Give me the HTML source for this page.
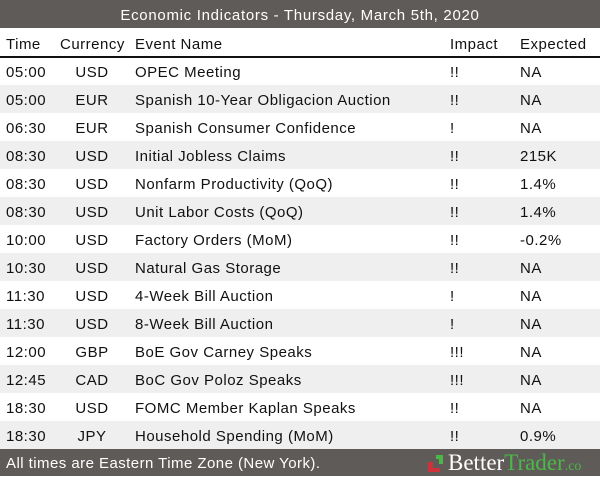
<!DOCTYPE html><html><head><style>
body{margin:0;width:600px;height:476px;font-family:"Liberation Sans",sans-serif;background:#fff;position:relative;overflow:hidden}
.top{position:absolute;left:0;top:0;width:600px;height:28px;background:#5f5b59;color:#fff;font-size:15px;text-align:center;line-height:31px;letter-spacing:0.7px}
.r{position:absolute;left:0;width:600px;height:28px;font-size:15px;color:#111;line-height:31px;letter-spacing:0.5px}
.r span{position:absolute;white-space:nowrap}
.g{background:#efefef}
.t{left:6px}.c{left:60px;width:64px;text-align:center}.e{left:135px}.i{left:450px}.x{left:520px}
.hd{top:29px;border-bottom:2px solid #111;height:27px}
.foot{position:absolute;left:0;top:449px;width:600px;height:27px;background:#5f5b59;color:#fff;font-size:15px;line-height:30px;letter-spacing:0.45px}
</style></head><body>
<div class="top">Economic Indicators - Thursday, March 5th, 2020</div>
<div class="r hd"><span class="t">Time</span><span style="left:60px">Currency</span><span class="e">Event Name</span><span style="left:450px">Impact</span><span class="x">Expected</span></div>
<div class="r" style="top:57px"><span class="t">05:00</span><span class="c">USD</span><span class="e">OPEC Meeting</span><span class="i">!!</span><span class="x">NA</span></div>
<div class="r g" style="top:85px"><span class="t">05:00</span><span class="c">EUR</span><span class="e">Spanish 10-Year Obligacion Auction</span><span class="i">!!</span><span class="x">NA</span></div>
<div class="r" style="top:113px"><span class="t">06:30</span><span class="c">EUR</span><span class="e">Spanish Consumer Confidence</span><span class="i">!</span><span class="x">NA</span></div>
<div class="r g" style="top:141px"><span class="t">08:30</span><span class="c">USD</span><span class="e">Initial Jobless Claims</span><span class="i">!!</span><span class="x">215K</span></div>
<div class="r" style="top:169px"><span class="t">08:30</span><span class="c">USD</span><span class="e">Nonfarm Productivity (QoQ)</span><span class="i">!!</span><span class="x">1.4%</span></div>
<div class="r g" style="top:197px"><span class="t">08:30</span><span class="c">USD</span><span class="e">Unit Labor Costs (QoQ)</span><span class="i">!!</span><span class="x">1.4%</span></div>
<div class="r" style="top:225px"><span class="t">10:00</span><span class="c">USD</span><span class="e">Factory Orders (MoM)</span><span class="i">!!</span><span class="x">-0.2%</span></div>
<div class="r g" style="top:253px"><span class="t">10:30</span><span class="c">USD</span><span class="e">Natural Gas Storage</span><span class="i">!!</span><span class="x">NA</span></div>
<div class="r" style="top:281px"><span class="t">11:30</span><span class="c">USD</span><span class="e">4-Week Bill Auction</span><span class="i">!</span><span class="x">NA</span></div>
<div class="r g" style="top:309px"><span class="t">11:30</span><span class="c">USD</span><span class="e">8-Week Bill Auction</span><span class="i">!</span><span class="x">NA</span></div>
<div class="r" style="top:337px"><span class="t">12:00</span><span class="c">GBP</span><span class="e">BoE Gov Carney Speaks</span><span class="i">!!!</span><span class="x">NA</span></div>
<div class="r g" style="top:365px"><span class="t">12:45</span><span class="c">CAD</span><span class="e">BoC Gov Poloz Speaks</span><span class="i">!!!</span><span class="x">NA</span></div>
<div class="r" style="top:393px"><span class="t">18:30</span><span class="c">USD</span><span class="e">FOMC Member Kaplan Speaks</span><span class="i">!!</span><span class="x">NA</span></div>
<div class="r g" style="top:421px"><span class="t">18:30</span><span class="c">JPY</span><span class="e">Household Spending (MoM)</span><span class="i">!!</span><span class="x">0.9%</span></div>
<div class="foot"><span style="position:absolute;left:6px">All times are Eastern Time Zone (New York).</span>
<div style="position:absolute;left:428px;top:13px;width:5px;height:10px;background:#d0323c"></div>
<div style="position:absolute;left:428px;top:19px;width:12px;height:4px;background:#d0323c"></div>
<div style="position:absolute;left:436px;top:6px;width:7px;height:4px;background:#4cb847"></div>
<div style="position:absolute;left:439px;top:6px;width:4px;height:9px;background:#4cb847"></div>
<span style="position:absolute;left:448px;top:-1px;font-family:'Liberation Serif',serif;font-size:23px;color:#fff;letter-spacing:0">Better<span style="position:static;color:#4cb847">Trader</span><span style="position:static;color:#4cb847;font-size:14px">.co</span></span></div>
</body></html>
